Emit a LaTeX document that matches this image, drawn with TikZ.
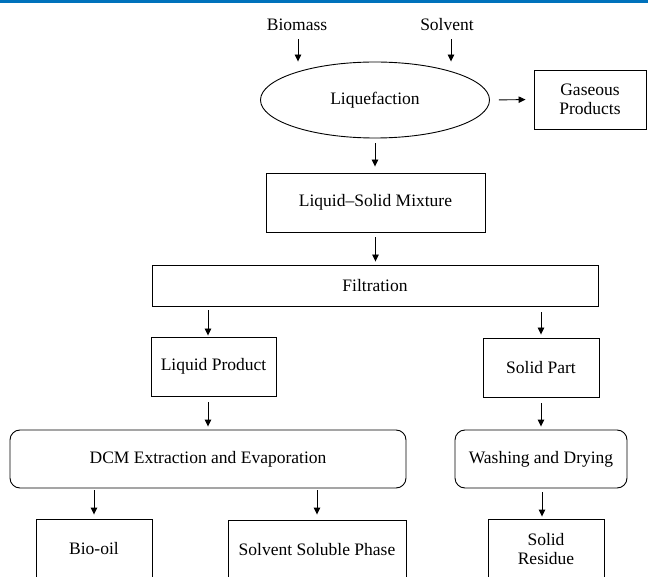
\documentclass[tikz,border=0pt]{standalone}
\usepackage{fontspec}
\setmainfont{Liberation Serif}
\usetikzlibrary{arrows.meta,shapes.geometric}
\definecolor{topblue}{RGB}{0,114,188}
\begin{document}
\begin{tikzpicture}[x=1pt,y=-1pt,
  every node/.style={font=\rmfamily\fontsize{17.5}{20}\selectfont, align=center, inner sep=0pt},
  box/.style={draw, rectangle, line width=0.9pt},
  rbox/.style={draw, rectangle, rounded corners=10pt, line width=0.9pt},
  oval/.style={draw, ellipse, line width=0.9pt},
  lbl/.style={},
  arr/.style={-{Triangle[length=7pt,width=6.5pt]}, line width=0.9pt}]
\useasboundingbox (0,0) rectangle (648,577);
\clip (0,0) rectangle (648,577);
\fill[topblue] (0,0) rectangle (648,3.2);

\node[lbl] (biomass) at (297,25) {Biomass};
\node[lbl] (solvent) at (447,25) {Solvent};
\node[oval, minimum width=229pt, minimum height=76pt] (liq) at (375,100) {Liquefaction};
\node[box, minimum width=112pt, minimum height=59pt] (gas) at (590,99.5) {Gaseous\\[-1pt]Products};
\node[box, minimum width=219pt, minimum height=59pt] (lsm) at (375.5,202.5) {Liquid–Solid Mixture};
\node[box, minimum width=446pt, minimum height=41pt] (filt) at (375,285.5) {Filtration};
\node[box, minimum width=125pt, minimum height=59pt] (lp) at (213.5,366.5) {Liquid Product};
\node[box, minimum width=116pt, minimum height=59pt] (sp) at (541,367.5) {Solid Part};
\node[rbox, minimum width=396pt, minimum height=58pt] (dcm) at (208,459) {DCM Extraction and Evaporation};
\node[rbox, minimum width=172pt, minimum height=58pt] (wd) at (541,459) {Washing and Drying};
\node[box, minimum width=116pt, minimum height=60pt] (bio) at (94,549) {Bio-oil};
\node[box, minimum width=178pt, minimum height=60pt] (ssp) at (317,550) {Solvent Soluble Phase};
\node[box, minimum width=116pt, minimum height=60pt] (sr) at (546,549) {Solid\\[-1pt]Residue};

% connectors
\draw[arr, shorten <=8pt] ([xshift=1pt]biomass.south) -- ([xshift=1pt]biomass.south |- liq.north);
\draw[arr, shorten <=8pt] ([xshift=4pt]solvent.south) -- ([xshift=4pt]solvent.south |- liq.north);
\draw[arr, shorten <=9pt, shorten >=8pt] (liq.east) -- (gas.west);
\draw[arr, shorten <=5pt, shorten >=6pt] (liq.south) -- (liq.south |- lsm.north);
\draw[arr, shorten <=5pt, shorten >=3pt] (lsm.south) -- (lsm.south |- filt.north);
\draw[arr, shorten <=4pt, shorten >=1pt] ([xshift=-5.5pt]lp.north |- filt.south) -- ([xshift=-5.5pt]lp.north);
\draw[arr, shorten <=6pt, shorten >=3pt] (sp.north |- filt.south) -- (sp.north);
\draw[arr, shorten <=6pt, shorten >=3pt] ([xshift=-5.5pt]lp.south) -- ([xshift=-5.5pt]lp.south |- dcm.north);
\draw[arr, shorten <=6pt, shorten >=3pt] (sp.south) -- (sp.south |- wd.north);
\draw[arr, shorten <=2pt, shorten >=4pt] (bio.north |- dcm.south) -- (bio.north);
\draw[arr, shorten <=2pt, shorten >=5pt] (ssp.north |- dcm.south) -- (ssp.north);
\draw[arr, shorten <=4pt, shorten >=2pt] ([xshift=-4pt]sr.north |- wd.south) -- ([xshift=-4pt]sr.north);
\end{tikzpicture}
\end{document}
